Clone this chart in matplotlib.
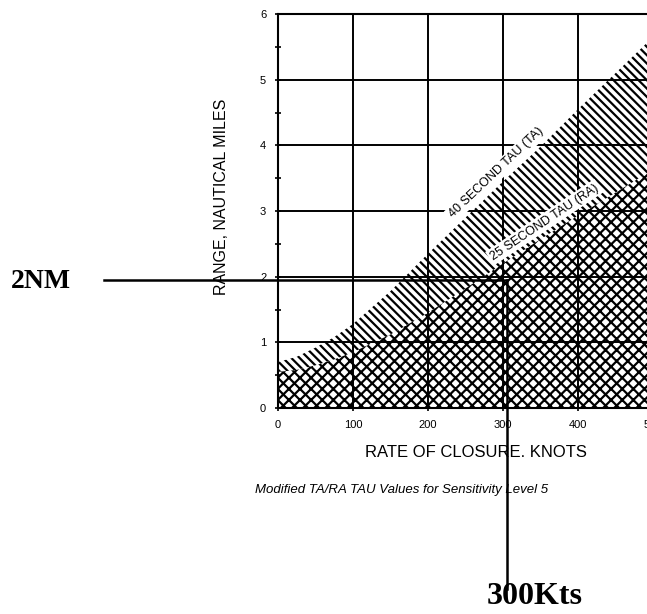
import numpy as np
import matplotlib.pyplot as plt
from matplotlib import transforms

# Range boundaries (NM) against rate of closure (knots)
closure_kts = [0, 25, 50, 75, 100, 150, 200, 250, 300, 350, 400, 450, 500]
ta_range_nm = [0.70, 0.78, 0.92, 1.08, 1.28, 1.78, 2.35, 2.90, 3.45, 3.98, 4.55, 5.10, 5.65]
ra_range_nm = [0.55, 0.58, 0.65, 0.74, 0.85, 1.12, 1.45, 1.82, 2.20, 2.57, 2.93, 3.28, 3.63]

x_ticks = [0, 100, 200, 300, 400, 500]
x_ticklabels = ['0', '100', '200', '300', '400', '500']
y_ticks = [0, 1, 2, 3, 4, 5, 6]
y_ticklabels = ['0', '1', '2', '3', '4', '5', '6']

# the point picked out on the chart
marked_rate = 300
marked_range = 2

plt.rcParams['hatch.linewidth'] = 1.6
plt.rcParams['font.family'] = ['Liberation Sans', 'DejaVu Sans']

fig = plt.figure(figsize=(6.47, 6.14), dpi=100)
ax = fig.add_axes([0.4297, 0.3355, 0.5796, 0.6417])

x = np.array(closure_kts)
ta = np.array(ta_range_nm)
ra = np.array(ra_range_nm)

# RA area (cross hatch) and TA band (diagonal hatch)
ax.fill_between(x, 0, ra, facecolor='none', edgecolor='black', linewidth=0, hatch='xxx', zorder=2)
ax.fill_between(x, ra, ta, facecolor='none', edgecolor='black', linewidth=0, hatch='\\\\\\\\', zorder=2)

ax.set_xlim(0, 500)
ax.set_ylim(0, 6)
ax.set_xticks(x_ticks)
ax.set_xticklabels(x_ticklabels)
ax.set_yticks(y_ticks)
ax.set_yticklabels(y_ticklabels)
ax.set_yticks(np.arange(0.5, 6, 1), minor=True)
ax.grid(True, color='black', linewidth=1.4, zorder=1)
ax.tick_params(axis='both', which='major', direction='inout', length=5, width=1.2,
               labelsize=8, pad=6)
ax.tick_params(axis='y', which='minor', direction='inout', length=4, width=1.2)
for s in ax.spines.values():
    s.set_linewidth(1.5)

# curve labels
ax.text(291, 3.58, '40 SECOND TAU (TA)', rotation=43.6, fontsize=9,
        ha='center', va='center', rotation_mode='anchor', zorder=5,
        bbox=dict(facecolor='white', edgecolor='none', pad=1.5))
ax.text(355, 2.83, '25 SECOND TAU (RA)', rotation=33.8, fontsize=9,
        ha='center', va='center', rotation_mode='anchor', zorder=5,
        bbox=dict(facecolor='white', edgecolor='none', pad=1.5))

fig.text(0.343, 0.679, 'RANGE, NAUTICAL MILES', rotation=90, fontsize=11.5,
         ha='center', va='center')
fig.text(0.7357, 0.2638, 'RATE OF CLOSURE. KNOTS', fontsize=12,
         ha='center', va='center')
fig.text(0.6206, 0.202, 'Modified TA/RA TAU Values for Sensitivity Level 5',
         fontsize=9.5, style='italic', ha='center', va='center')

# lines marking 2 NM / 300 knots, running out of the axes
inv = ax.transData.inverted()
x_left = inv.transform(fig.transFigure.transform((0.1546, 0)))[0]
y_bot = inv.transform(fig.transFigure.transform((0, 0.046)))[1]
shift = transforms.offset_copy(ax.transData, fig=fig, x=4, y=-3, units='dots')
ax.plot([x_left, marked_rate], [marked_range, marked_range], color='black',
        linewidth=1.8, clip_on=False, transform=shift, zorder=6)
ax.plot([marked_rate, marked_rate], [marked_range, y_bot], color='black',
        linewidth=1.8, clip_on=False, transform=shift, zorder=6)

fig.text(0.0634, 0.5423, '2NM', fontsize=20, fontweight='bold',
         family='Liberation Serif', ha='center', va='center')
fig.text(0.827, 0.005, '300Kts', fontsize=23, fontweight='bold',
         family='Liberation Serif', ha='center', va='bottom')

fig.savefig('out.png', dpi=100)
